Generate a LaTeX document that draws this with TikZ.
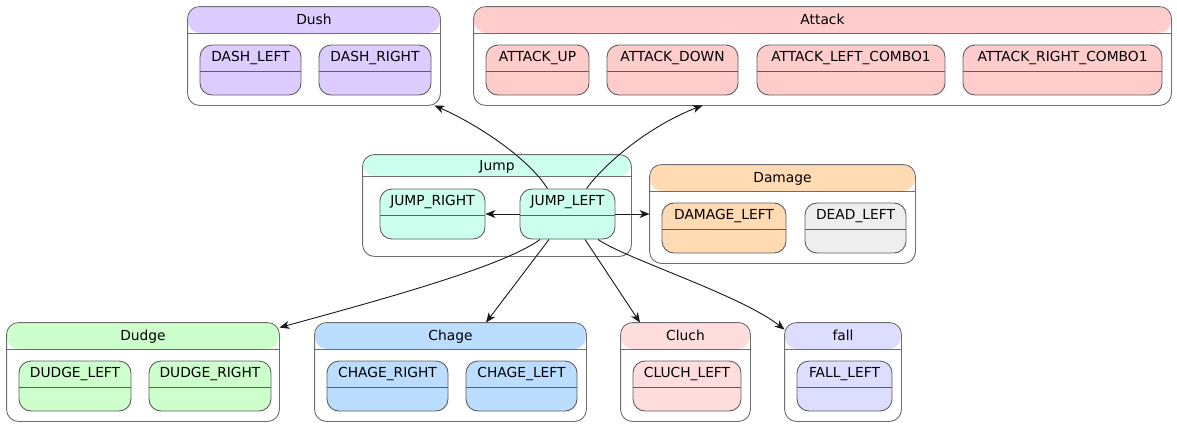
\documentclass[tikz,border=0pt]{standalone}
\usepackage{fontspec}
\setmainfont{DejaVu Sans}
\usetikzlibrary{fit,calc,arrows.meta}
\definecolor{cDush}{HTML}{DDCCFF}
\definecolor{cAttack}{HTML}{FFCCCC}
\definecolor{cJump}{HTML}{CCFFEE}
\definecolor{cDamage}{HTML}{FFDAB3}
\definecolor{cDead}{HTML}{EEEEEE}
\definecolor{cDudge}{HTML}{CCFFCC}
\definecolor{cChage}{HTML}{BBDDFF}
\definecolor{cCluch}{HTML}{FFDDDD}
\definecolor{cFall}{HTML}{DDDDFF}
\definecolor{clgray}{HTML}{6E6E6E}
\definecolor{stgray}{HTML}{5E5E5E}
\definecolor{edgec}{HTML}{181818}
\tikzset{
  clusterbox/.style 2 args={line width=0.9pt, rounded corners=12pt, inner sep=0pt,
    path picture={\fill[#1] (path picture bounding box.north west) rectangle ([yshift=-#2]path picture bounding box.north east);
      \draw[clgray, line width=0.9pt] ([yshift=-#2]path picture bounding box.north west) -- ([yshift=-#2]path picture bounding box.north east);}},
  clusteredge/.style={draw=clgray, line width=0.9pt, rounded corners=12pt},
  statebox/.style={draw=stgray, line width=0.9pt, rounded corners=12pt, inner sep=0pt, fill=#1,
    path picture={\draw[stgray, line width=0.9pt] ([yshift=-26pt]path picture bounding box.north west) -- ([yshift=-26pt]path picture bounding box.north east);}},
  lbl/.style={font=\fontsize{13.8}{16}\selectfont, inner sep=0pt, text height=10.5pt, text depth=3pt, anchor=center},
  conn/.style={draw=edgec, line width=0.9pt, -{Stealth[length=10pt,width=8pt,inset=3pt]}}
}
\newcommand\mycluster[8]{%
  \node[clusterbox={#6}{#7}, fit={(#2,#3)(#4,#5)}] (#1) {};
  \draw[clusteredge] (#1.north west) rectangle (#1.south east);
  \node[lbl] (#1T) at ($(#1.north)+(0,#7/2+1.5)$) {#8};}
\newcommand\mystate[7]{%
  \node[statebox=#6, fit={(#2,#3)(#4,#5)}] (#1) {};
  \node[lbl] (#1T) at ($(#1.north)+(0,13.5)$) {#7};}
\begin{document}
\begin{tikzpicture}[x=1pt,y=-1pt]
\useasboundingbox[fill=white] (0,0) rectangle (1177,426);
% clusters
\mycluster{dush}{188}{7}{440}{105}{cDush}{26}{Dush}
\mycluster{attack}{474}{7}{1171}{105}{cAttack}{26}{Attack}
\mycluster{jump}{363}{155}{631}{256}{cJump}{21}{Jump}
\mycluster{damage}{650}{165}{915}{263}{cDamage}{26}{Damage}
\mycluster{dudge}{7}{323}{279}{421}{cDudge}{26}{Dudge}
\mycluster{chage}{315}{323}{586}{421}{cChage}{26}{Chage}
\mycluster{cluch}{621}{323}{750}{421}{cCluch}{26}{Cluch}
\mycluster{fall}{785}{323}{901}{421}{cFall}{26}{fall}
% states
\mystate{dl}{200}{45}{301}{95}{cDush}{DASH\_LEFT}
\mystate{dr}{319}{45}{431}{95}{cDush}{DASH\_RIGHT}
\mystate{au}{486}{45}{589}{95}{cAttack}{ATTACK\_UP}
\mystate{ad}{607}{45}{738}{95}{cAttack}{ATTACK\_DOWN}
\mystate{alc}{757}{45}{945}{95}{cAttack}{ATTACK\_LEFT\_COMBO1}
\mystate{arc}{963}{45}{1162}{95}{cAttack}{ATTACK\_RIGHT\_COMBO1}
\mystate{jr}{380}{189}{485}{239}{cJump}{JUMP\_RIGHT}
\mystate{jl}{520}{189}{615}{239}{cJump}{JUMP\_LEFT}
\mystate{dmg}{662}{203}{786}{253}{cDamage}{DAMAGE\_LEFT}
\mystate{dead}{805}{203}{906}{253}{cDead}{DEAD\_LEFT}
\mystate{ddl}{19}{361}{131}{411}{cDudge}{DUDGE\_LEFT}
\mystate{ddr}{149}{361}{271}{411}{cDudge}{DUDGE\_RIGHT}
\mystate{cr}{327}{361}{448}{411}{cChage}{CHAGE\_RIGHT}
\mystate{cl}{466}{361}{577}{411}{cChage}{CHAGE\_LEFT}
\mystate{clt}{633}{361}{741}{411}{cCluch}{CLUCH\_LEFT}
\mystate{fl}{797}{361}{892}{411}{cFall}{FALL\_LEFT}
% connectors
\draw[conn] ($(jl.north)+(-20,0)$) .. controls +(-19,-30) and +(45,20) .. ($(dush.south east)+(-6,0)$);
\draw[conn] ($(jl.north)+(19,0)$) .. controls +(20,-27) and +(-52,20) .. ($(attack.south)+(-120,0)$);
\draw[conn] (jl.west) -- (jr.east);
\draw[conn] (jl.east) -- (damage.west |- jl.east);
\draw[conn] ($(jl.south)+(-27.5,0)$) .. controls +(-35,26) and +(110,-30) .. ($(dudge.north east)+(0,5)$);
\draw[conn] ($(jl.south)+(-18.5,0)$) -- ($(chage.north)+(35.5,0)$);
\draw[conn] ($(jl.south)+(17.5,0)$) -- ($(cluch.north)+(-45.5,0)$);
\draw[conn] ($(jl.south)+(30.5,0)$) .. controls +(27,19) and +(-45,-35) .. ($(fall.north west)+(0,7)$);
\end{tikzpicture}
\end{document}
